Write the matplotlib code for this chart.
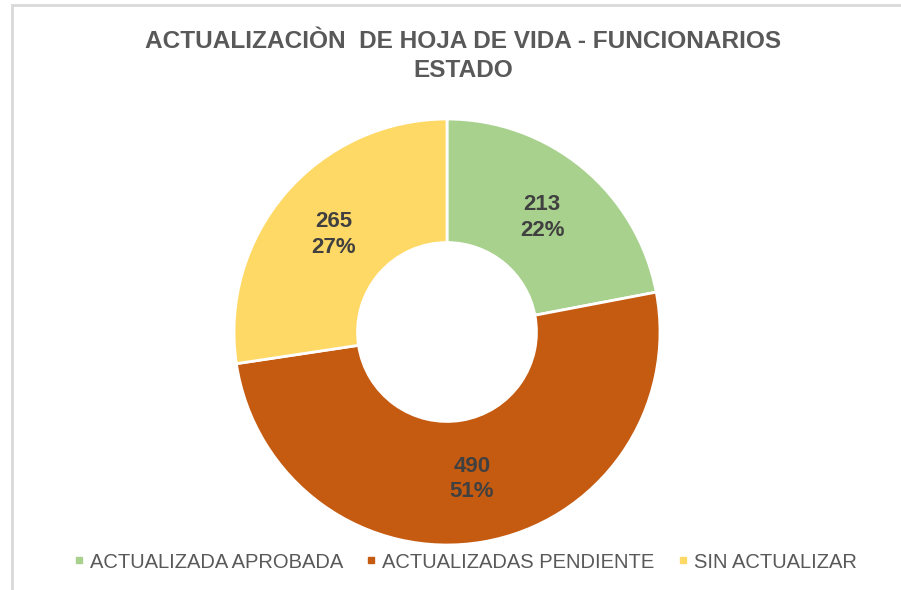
import matplotlib.pyplot as plt
from matplotlib.lines import Line2D
from matplotlib.patches import Rectangle
import numpy as np

# Data
categories = ["ACTUALIZADA APROBADA", "ACTUALIZADAS PENDIENTE", "SIN ACTUALIZAR"]
counts = [213, 490, 265]
colors = ["#A9D18E", "#C55A11", "#FFD966"]
title = "ACTUALIZACIÒN  DE HOJA DE VIDA - FUNCIONARIOS\nESTADO"

plt.rcParams["font.family"] = ["Liberation Sans", "DejaVu Sans"]

fig = plt.figure(figsize=(9.01, 5.90), dpi=100)
fig.patch.set_facecolor("white")

# light gray chart frame
fig.patches.append(Rectangle((12 / 901, -0.01), 1.0, 1 - 5 / 590 + 0.01,
                             transform=fig.transFigure, fill=False,
                             edgecolor="#D9D9D9", linewidth=2))

# square axes centred on the donut
cx, cy, r = 447, 590 - 332, 213
ax = fig.add_axes([(cx - r) / 901, (cy - r) / 590, 2 * r / 901, 2 * r / 590])

wedges, _ = ax.pie(counts, colors=colors, startangle=90, counterclock=False,
                   radius=1, wedgeprops=dict(width=0.58, edgecolor="white", linewidth=2))
ax.set_xlim(-1, 1)
ax.set_ylim(-1, 1)
ax.axis("off")

total = sum(counts)
for w, c in zip(wedges, counts):
    ang = np.deg2rad((w.theta1 + w.theta2) / 2)
    x, y = 0.7 * np.cos(ang), 0.7 * np.sin(ang)
    pct = round(c / total * 100)
    ax.text(x, y, f"{c}\n{pct}%", ha="center", va="center", fontsize=16,
            fontweight="bold", color="#404040", linespacing=1.3)

fig.text(463 / 901, 1 - 56 / 590, title, ha="center", va="center", fontsize=17.6,
         fontweight="bold", color="#595959", linespacing=1.35)

handles = [Line2D([], [], marker="s", linestyle="none", markersize=5,
                  markerfacecolor=col, markeredgecolor=col) for col in colors]
fig.legend(handles, categories, loc="center",
           bbox_to_anchor=(0.5 + 13 / 901, 28 / 590),
           ncol=3, frameon=False, fontsize=14.5, handletextpad=0.15,
           columnspacing=1.0, labelcolor="#595959", handlelength=0.8)

fig.savefig("out.png", dpi=100)
